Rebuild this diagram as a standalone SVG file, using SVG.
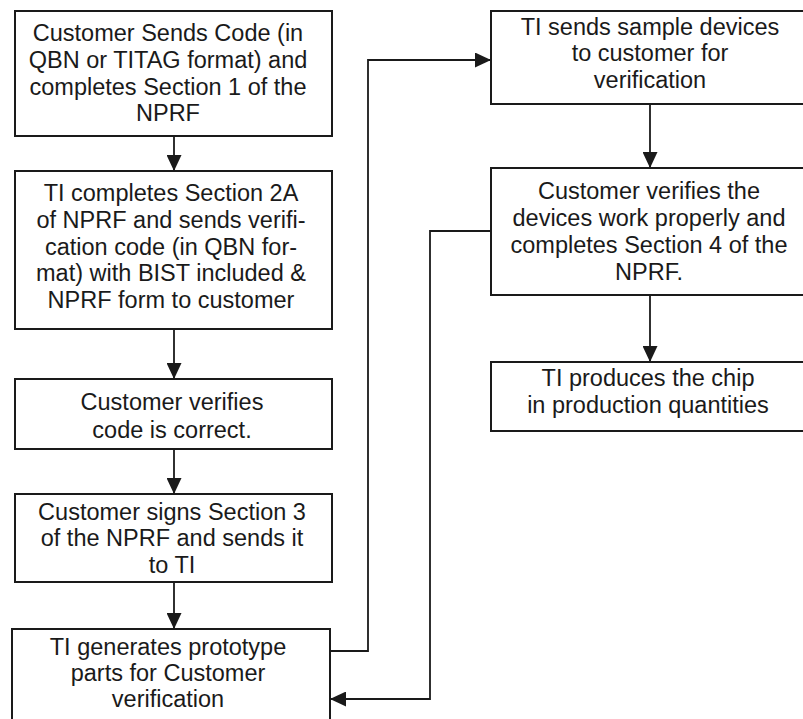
<svg xmlns="http://www.w3.org/2000/svg" width="803" height="719" viewBox="0 0 803 719">
<style>
.box{fill:#fff;stroke:#1a1a1a;stroke-width:2}
.t{font-family:"Liberation Sans",Arial,sans-serif;font-size:23.5px;fill:#1a1a1a;text-anchor:middle}
.c{fill:none;stroke:#1a1a1a;stroke-width:1.8;marker-end:url(#ah)}
</style>
<defs>
<marker id="ah" markerUnits="userSpaceOnUse" markerWidth="16" markerHeight="15" refX="16" refY="7.5" orient="auto">
<path d="M0,0 L16,7.5 L0,15 z" fill="#1a1a1a"/>
</marker>
</defs>
<rect width="803" height="719" fill="#fff"/>
<g id="connectors">
<path class="c" d="M174,136 V171"/>
<path class="c" d="M174,329 V379"/>
<path class="c" d="M174,449 V494"/>
<path class="c" d="M174,582 V629"/>
<path class="c" d="M330,651 H368 V60 H491"/>
<path class="c" d="M650,104 V168"/>
<path class="c" d="M491,231 H430 V699 H330"/>
<path class="c" d="M650,295 V362"/>
</g>
<g id="n1">
<rect class="box" x="15" y="11" width="317" height="125"/>
<text class="t"><tspan x="168" y="41">Customer Sends Code (in</tspan><tspan x="168" y="68">QBN or TITAG format) and</tspan><tspan x="168" y="95">completes Section 1 of the</tspan><tspan x="168" y="121">NPRF</tspan></text>
</g>
<g id="n2">
<rect class="box" x="15" y="171" width="317" height="158"/>
<text class="t"><tspan x="171" y="201">TI completes Section 2A</tspan><tspan x="171" y="228">of NPRF and sends verifi-</tspan><tspan x="171" y="255">cation code (in QBN for-</tspan><tspan x="171" y="281">mat) with BIST included &amp;</tspan><tspan x="171" y="308">NPRF form to customer</tspan></text>
</g>
<g id="n3">
<rect class="box" x="15" y="379" width="317" height="70"/>
<text class="t"><tspan x="172" y="410">Customer verifies</tspan><tspan x="172" y="438">code is correct.</tspan></text>
</g>
<g id="n4">
<rect class="box" x="15" y="494" width="317" height="88"/>
<text class="t"><tspan x="172" y="520">Customer signs Section 3</tspan><tspan x="172" y="546">of the NPRF and sends it</tspan><tspan x="172" y="573">to TI</tspan></text>
</g>
<g id="n5">
<rect class="box" x="12" y="629" width="318" height="94"/>
<text class="t"><tspan x="168" y="655">TI generates prototype</tspan><tspan x="168" y="681">parts for Customer</tspan><tspan x="168" y="707">verification</tspan></text>
</g>
<g id="n6">
<rect class="box" x="491" y="11" width="314" height="93"/>
<text class="t"><tspan x="650" y="35">TI sends sample devices</tspan><tspan x="650" y="61">to customer for</tspan><tspan x="650" y="88">verification</tspan></text>
</g>
<g id="n7">
<rect class="box" x="491" y="168" width="314" height="127"/>
<text class="t"><tspan x="649" y="199">Customer verifies the</tspan><tspan x="649" y="226">devices work properly and</tspan><tspan x="649" y="253">completes Section 4 of the</tspan><tspan x="649" y="280">NPRF.</tspan></text>
</g>
<g id="n8">
<rect class="box" x="491" y="362" width="314" height="69"/>
<text class="t"><tspan x="648" y="386">TI produces the chip</tspan><tspan x="648" y="413">in production quantities</tspan></text>
</g>
</svg>
